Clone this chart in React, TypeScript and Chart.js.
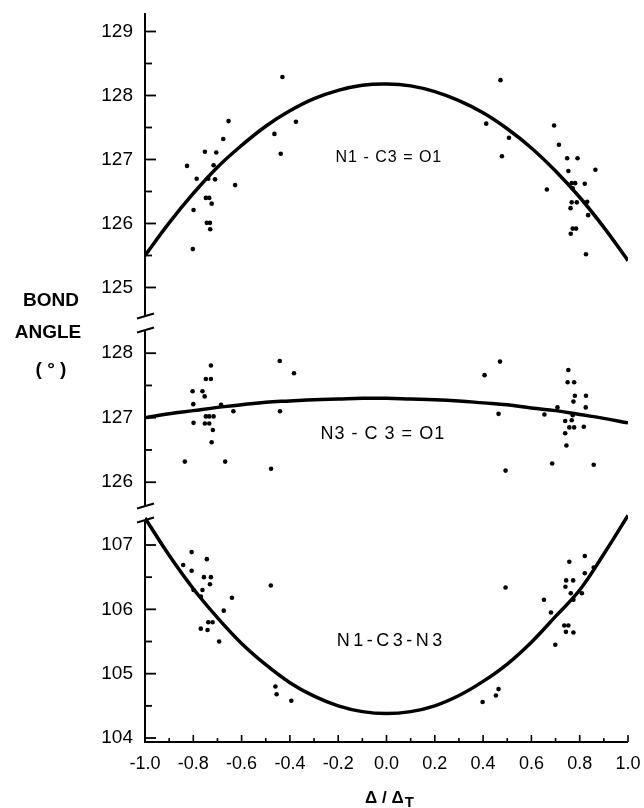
import React, { useEffect, useRef } from "react";
import { Chart, registerables } from "chart.js";

Chart.register(...registerables);

// ---------------- data ----------------
const curveX = [-1.0, -0.9, -0.8, -0.7, -0.6, -0.5, -0.4, -0.3, -0.2, -0.1, 0.0, 0.1, 0.2, 0.3, 0.4, 0.5, 0.6, 0.7, 0.8, 0.9, 1.0];

const n1c3o1Curve = [125.5, 126.01, 126.47, 126.88, 127.22, 127.52, 127.76, 127.95, 128.08, 128.16, 128.18, 128.15, 128.06, 127.92, 127.73, 127.48, 127.18, 126.82, 126.41, 125.94, 125.42];
const n3c3o1Curve = [127.0, 127.06, 127.11, 127.16, 127.2, 127.24, 127.26, 127.28, 127.29, 127.3, 127.3, 127.29, 127.28, 127.26, 127.23, 127.2, 127.15, 127.11, 127.05, 126.99, 126.92];
const n1c3n3Curve = [107.42, 106.84, 106.32, 105.87, 105.47, 105.14, 104.86, 104.65, 104.5, 104.41, 104.38, 104.41, 104.5, 104.66, 104.88, 105.15, 105.49, 105.89, 106.3, 106.86, 107.46];

const n1c3o1Points: [number, number][] = [
  [-0.431, 128.29], [-0.654, 127.6], [-0.375, 127.59], [-0.464, 127.4], [-0.676, 127.32], [-0.438, 127.09],
  [-0.752, 127.12], [-0.705, 127.11], [-0.826, 126.9], [-0.716, 126.91], [-0.786, 126.7], [-0.738, 126.7],
  [-0.71, 126.69], [-0.627, 126.6], [-0.748, 126.4], [-0.734, 126.4], [-0.724, 126.31], [-0.799, 126.21],
  [-0.744, 126.01], [-0.731, 126.01], [-0.73, 125.91], [-0.802, 125.6],
  [0.472, 128.24], [0.413, 127.56], [0.507, 127.34], [0.478, 127.05], [0.694, 127.53], [0.714, 127.23],
  [0.748, 127.02], [0.791, 127.02], [0.753, 126.82], [0.865, 126.84], [0.664, 126.53], [0.767, 126.63],
  [0.781, 126.63], [0.821, 126.62], [0.771, 126.55], [0.767, 126.33], [0.788, 126.33], [0.831, 126.34],
  [0.762, 126.24], [0.835, 126.13], [0.771, 125.92], [0.785, 125.92], [0.763, 125.84], [0.826, 125.52],
];

const n3c3o1Points: [number, number][] = [
  [-0.727, 127.81], [-0.442, 127.88], [-0.383, 127.69], [-0.748, 127.6], [-0.727, 127.6], [-0.803, 127.41],
  [-0.762, 127.41], [-0.753, 127.33], [-0.8, 127.21], [-0.685, 127.2], [-0.634, 127.1], [-0.441, 127.1],
  [-0.748, 127.02], [-0.734, 127.02], [-0.716, 127.02], [-0.799, 126.92], [-0.752, 126.91], [-0.734, 126.91],
  [-0.719, 126.81], [-0.724, 126.62], [-0.835, 126.32], [-0.668, 126.32], [-0.478, 126.21],
  [0.47, 127.87], [0.406, 127.66], [0.753, 127.74], [0.75, 127.55], [0.777, 127.55], [0.78, 127.34],
  [0.826, 127.34], [0.774, 127.25], [0.708, 127.16], [0.825, 127.16], [0.464, 127.06], [0.654, 127.05],
  [0.771, 127.04], [0.74, 126.95], [0.767, 126.96], [0.757, 126.85], [0.777, 126.85], [0.817, 126.86],
  [0.74, 126.76], [0.745, 126.57], [0.686, 126.29], [0.858, 126.27], [0.493, 126.18],
];

const n1c3n3Points: [number, number][] = [
  [-0.807, 106.89], [-0.744, 106.78], [-0.842, 106.69], [-0.807, 106.6], [-0.756, 106.5], [-0.727, 106.5],
  [-0.731, 106.39], [-0.479, 106.37], [-0.799, 106.3], [-0.762, 106.3], [-0.769, 106.2], [-0.64, 106.18],
  [-0.674, 105.98], [-0.738, 105.8], [-0.72, 105.8], [-0.769, 105.7], [-0.741, 105.68], [-0.693, 105.5],
  [-0.46, 104.8], [-0.455, 104.68], [-0.394, 104.58],
  [0.493, 106.34], [0.821, 106.83], [0.757, 106.74], [0.858, 106.65], [0.821, 106.56], [0.744, 106.45],
  [0.773, 106.45], [0.741, 106.35], [0.763, 106.25], [0.809, 106.25], [0.774, 106.15], [0.652, 106.15],
  [0.681, 105.95], [0.736, 105.75], [0.753, 105.75], [0.743, 105.65], [0.774, 105.64], [0.699, 105.45],
  [0.464, 104.76], [0.453, 104.66], [0.398, 104.56],
];

const topRange = [124.445, 129.289];
const midRange = [125.523, 128.468];
const lowRange = [103.938, 107.4975];

const panelLabels = ["N1 - C3 = O1", "N3 - C 3 = O1", "N1-C3-N3"];
const panelLabelAt: [number, number][] = [[0.01, 127.03], [-0.015, 126.74], [0.02, 105.51]];
const yTitleLines = ["BOND", "ANGLE", "( ° )"];
const xTitleMain = "Δ / Δ";
const xTitleSub = "T";

// ---------------- helpers ----------------
const curve = (ys: number[]) => curveX.map((x, i) => ({ x, y: ys[i] }));
const pts = (arr: [number, number][]) => arr.map(([x, y]) => ({ x, y }));

const FONT = "'Liberation Sans', Arial, sans-serif";

const axesPlugin = {
  id: "brokenAxes",
  afterDraw(chart: any) {
    const ctx = chart.ctx as CanvasRenderingContext2D;
    const { left, right, bottom } = chart.chartArea;
    const xs = chart.scales.x;
    ctx.save();
    ctx.strokeStyle = "#000";
    ctx.fillStyle = "#000";
    ctx.lineCap = "butt";
    const gap = 7;
    const panels: [string, boolean, boolean][] = [
      ["yTop", false, true],
      ["yMid", true, true],
      ["yLow", true, false],
    ];
    for (const [id, bTop, bBot] of panels) {
      const s = chart.scales[id];
      const top = bTop ? s.top + gap : s.top;
      const bot = bBot ? s.bottom - gap : bottom;
      ctx.lineWidth = 2;
      ctx.beginPath();
      ctx.moveTo(left, top);
      ctx.lineTo(left, bot);
      ctx.stroke();
      const slash = (y: number) => {
        ctx.beginPath();
        ctx.moveTo(left - 8, y + 2.5);
        ctx.lineTo(left + 9, y - 2.5);
        ctx.stroke();
      };
      if (bTop) slash(top);
      if (bBot) slash(bot);
      ctx.lineWidth = 1.8;
      for (let v = Math.ceil(s.min * 2) / 2; v <= s.max + 1e-9; v += 0.5) {
        const py = s.getPixelForValue(v);
        if (py < top - 0.5 || py > bot + 0.5) continue;
        const len = Math.abs(v - Math.round(v)) < 1e-6 ? 11 : 7;
        ctx.beginPath();
        ctx.moveTo(left, py);
        ctx.lineTo(left + len, py);
        ctx.stroke();
      }
    }
    // x axis
    ctx.lineWidth = 2;
    ctx.beginPath();
    ctx.moveTo(left - 1, bottom);
    ctx.lineTo(right, bottom);
    ctx.stroke();
    ctx.lineWidth = 1.6;
    for (let i = 0; i <= 20; i++) {
      const v = -1 + i * 0.1;
      const px = xs.getPixelForValue(v);
      const len = i % 2 === 0 ? 7 : 4;
      ctx.beginPath();
      ctx.moveTo(px, bottom);
      ctx.lineTo(px, bottom - len);
      ctx.stroke();
    }
    // panel labels
    ctx.textAlign = "center";
    ctx.textBaseline = "middle";
    const ids = ["yTop", "yMid", "yLow"];
    const sizes = [16, 18, 18];
    const spacing = ["1px", "1px", "3.5px"];
    panelLabels.forEach((t, i) => {
      const [x, y] = panelLabelAt[i];
      ctx.font = `${sizes[i]}px ${FONT}`;
      (ctx as any).letterSpacing = spacing[i];
      ctx.fillText(t, xs.getPixelForValue(x), chart.scales[ids[i]].getPixelForValue(y));
    });
    (ctx as any).letterSpacing = "0px";
    // y title
    ctx.font = `bold 19px ${FONT}`;
    const ys = [300.5, 332.5, 370];
    const xsT = [51, 48, 51];
    yTitleLines.forEach((t, i) => ctx.fillText(t, xsT[i], ys[i]));
    // x title
    ctx.font = `bold 17px ${FONT}`;
    ctx.textAlign = "left";
    ctx.textBaseline = "alphabetic";
    const mainW = ctx.measureText(xTitleMain).width;
    ctx.font = `bold 15px ${FONT}`;
    const subW = ctx.measureText(xTitleSub).width;
    const cx = (left + right) / 2 + 3;
    const x0 = cx - (mainW + subW + 1) / 2;
    ctx.font = `bold 17px ${FONT}`;
    ctx.fillText(xTitleMain, x0, 803);
    ctx.font = `bold 15px ${FONT}`;
    ctx.fillText(xTitleSub, x0 + mainW + 1, 807);
    ctx.restore();
  },
};

export default function App() {
  const ref = useRef<HTMLCanvasElement | null>(null);
  useEffect(() => {
    if (!ref.current) return;
    const lineDs = (ys: number[], axis: string) => ({
      data: curve(ys),
      yAxisID: axis,
      showLine: true,
      borderColor: "#000",
      borderWidth: 3.5,
      pointRadius: 0,
      tension: 0.4,
      fill: false,
    });
    const dotDs = (arr: [number, number][], axis: string) => ({
      data: pts(arr),
      yAxisID: axis,
      showLine: false,
      pointRadius: 2.3,
      pointBackgroundColor: "#000",
      pointBorderWidth: 0,
      borderColor: "#000",
    });
    const yScale = (range: number[], weight: number) => ({
      type: "linear",
      position: "left",
      stack: "bond",
      stackWeight: weight,
      min: range[0],
      max: range[1],
      grid: { display: false, drawTicks: false },
      border: { display: false },
      ticks: {
        stepSize: 1,
        includeBounds: false,
        autoSkip: false,
        padding: 12,
        color: "#000",
        font: { family: FONT, size: 19 },
        callback: (v: number) => String(Math.round(v)),
      },
      afterFit: (s: any) => {
        s.width = 145;
        s.paddingTop = 0;
        s.paddingBottom = 0;
      },
    });
    const chart = new Chart(ref.current, {
      type: "scatter",
      data: {
        datasets: [
          lineDs(n1c3o1Curve, "yTop"),
          lineDs(n3c3o1Curve, "yMid"),
          lineDs(n1c3n3Curve, "yLow"),
          dotDs(n1c3o1Points, "yTop"),
          dotDs(n3c3o1Points, "yMid"),
          dotDs(n1c3n3Points, "yLow"),
        ] as any,
      },
      options: {
        animation: false,
        responsive: false,
        devicePixelRatio: 1,
        layout: { padding: { top: 13, right: 16, left: 0, bottom: 0 } },
        plugins: { legend: { display: false }, tooltip: { enabled: false }, title: { display: false } },
        scales: {
          x: {
            type: "linear",
            position: "bottom",
            min: -1,
            max: 1,
            grid: { display: false, drawTicks: false },
            border: { display: false },
            ticks: {
              stepSize: 0.2,
              autoSkip: false,
              maxRotation: 0,
              padding: 11,
              color: "#000",
              font: { family: FONT, size: 18 },
              callback: (v: number) => (Math.abs(v) < 1e-9 ? "0.0" : Number(v).toFixed(1)),
            },
            afterFit: (s: any) => {
              s.height = 66;
              s.paddingLeft = 0;
              s.paddingRight = 0;
            },
          },
          yLow: yScale(lowRange, 229),
          yMid: yScale(midRange, 190),
          yTop: yScale(topRange, 310),
        } as any,
      },
      plugins: [axesPlugin],
    });
    return () => chart.destroy();
  }, []);
  return (
    <div style={{ position: "absolute", left: 0, top: 0, width: 644, height: 808, background: "#fff" }}>
      <canvas ref={ref} width={644} height={808} style={{ display: "block" }} />
    </div>
  );
}
